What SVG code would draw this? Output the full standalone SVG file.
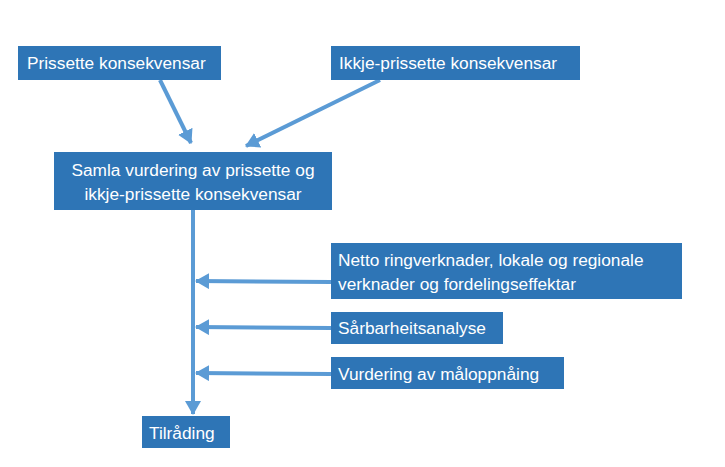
<svg xmlns="http://www.w3.org/2000/svg" width="725" height="467" viewBox="0 0 725 467">
<defs>
<marker id="ah" markerWidth="14" markerHeight="16" refX="13" refY="8" orient="auto" markerUnits="userSpaceOnUse">
<path d="M0,0 L14,8 L0,16 Z" fill="#5B9BD5"/>
</marker>
<style>
.box{fill:#2E75B6}
.t{font-family:"Liberation Sans",Arial,sans-serif;font-size:17.3px;fill:#fff}
.c{stroke:#5B9BD5;stroke-width:4;fill:none}
</style>
</defs>
<rect width="725" height="467" fill="#fff"/>
<g id="connectors">
<line class="c" x1="160" y1="80" x2="191" y2="143" marker-end="url(#ah)"/>
<line class="c" x1="380" y1="80" x2="246" y2="146" marker-end="url(#ah)"/>
<line class="c" x1="193" y1="210" x2="193" y2="414" marker-end="url(#ah)"/>
<line class="c" x1="331" y1="282" x2="196" y2="281" marker-end="url(#ah)"/>
<line class="c" x1="331" y1="328" x2="196" y2="327" marker-end="url(#ah)"/>
<line class="c" x1="331" y1="374" x2="196" y2="373" marker-end="url(#ah)"/>
</g>
<g id="n1"><rect class="box" x="18" y="46" width="203" height="34"/><text class="t" x="27" y="69">Prissette konsekvensar</text></g>
<g id="n2"><rect class="box" x="331" y="46" width="249" height="34"/><text class="t" x="339" y="69">Ikkje-prissette konsekvensar</text></g>
<g id="n3"><rect class="box" x="54" y="152" width="278" height="58"/><text class="t" x="193" y="176" text-anchor="middle">Samla vurdering av prissette og</text><text class="t" x="193" y="200" text-anchor="middle">ikkje-prissette konsekvensar</text></g>
<g id="n4"><rect class="box" x="331" y="243" width="351" height="56"/><text class="t" x="338" y="266">Netto ringverknader, lokale og regionale</text><text class="t" x="338" y="290">verknader og fordelingseffektar</text></g>
<g id="n5"><rect class="box" x="331" y="312" width="172" height="32"/><text class="t" x="338" y="334">Sårbarheitsanalyse</text></g>
<g id="n6"><rect class="box" x="331" y="357" width="233" height="32"/><text class="t" x="338" y="380">Vurdering av måloppnåing</text></g>
<g id="n7"><rect class="box" x="142" y="416" width="88" height="32"/><text class="t" x="149" y="439">Tilråding</text></g>
</svg>
